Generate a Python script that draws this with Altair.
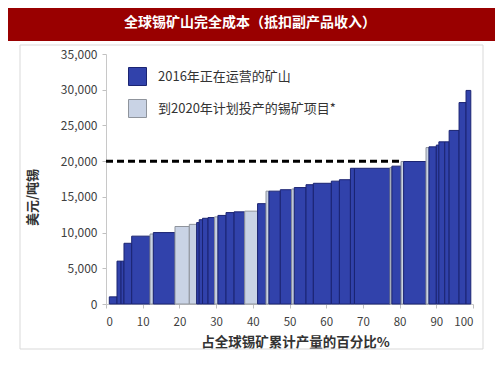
import altair as alt
import pandas as pd

TITLE = "全球锡矿山完全成本（抵扣副产品收入）"
Y_TITLE = "美元/吨锡"
X_TITLE = "占全球锡矿累计产量的百分比%"
CAT_OPER = "2016年正在运营的矿山"
CAT_PROJ = "到2020年计划投产的锡矿项目*"

# share of global tin mine output (%) for each mine, in cost order
START = 0.9
widths = [2.1, 1.1, 0.8, 2.1, 5.0, 0.9, 5.9, 3.9, 2.0, 0.7, 0.9, 1.5, 1.8, 0.9,
          2.2, 2.2, 2.9, 3.5, 2.3, 0.8, 3.1, 3.1, 0.7, 3.2, 2.0, 4.9, 2.2, 3.0,
          1.1, 9.7, 0.5, 2.5, 0.7, 6.1, 0.8, 2.0, 0.7, 1.6, 1.2, 2.7, 1.9, 1.3]
# all-in cost, USD per tonne of tin
costs = [1000, 6000, 6000, 8500, 9500, 9800, 10000, 10850, 11150, 11400, 11800,
         12000, 12100, 12200, 12400, 12800, 12900, 13000, 14050, 15800, 15800,
         16000, 16100, 16300, 16700, 16900, 17200, 17400, 19000, 19000, 19100,
         19300, 19950, 19950, 21900, 22000, 22250, 22700, 22700, 24300, 28200, 29900]
# O = operating in 2016, P = project planned by 2020
types = ["O", "O", "O", "O", "O", "P", "O", "P", "P", "O", "O", "O", "O", "P",
         "O", "O", "O", "P", "O", "P", "O", "O", "P", "O", "O", "O", "O", "O",
         "O", "O", "P", "O", "P", "O", "P", "O", "O", "O", "O", "O", "O", "O"]

PRICE_LINE = 20000
PRICE_LINE_END = 80.6

X_TICKS = list(range(0, 101, 10))
Y_TICKS = list(range(0, 35001, 5000))

FONT = "Noto Sans CJK SC"
BLUE = "#3142ab"
BLUE_EDGE = "#1b2472"
LIGHT = "#c9d3e5"
LIGHT_EDGE = "#8f949c"

df = pd.DataFrame({"w": widths, "cost": costs, "t": types})
df["x1"] = START + df["w"].cumsum()
df["x0"] = df["x1"] - df["w"]
df["cat"] = df["t"].map({"O": CAT_OPER, "P": CAT_PROJ})

one = pd.DataFrame({"a": [0]})

X_SCALE = alt.Scale(domain=[0, 100], nice=False)
Y_SCALE = alt.Scale(domain=[0, 35000], nice=False)
X_AXIS = alt.Axis(values=X_TICKS, format="d", title=X_TITLE, titleX=189, titleY=38,
                  titleAlign="center", titleBaseline="middle", labelPadding=8)
Y_AXIS = alt.Axis(values=Y_TICKS, format=",d", title=Y_TITLE, titleX=-74, titleY=143,
                  titleAlign="center", titleBaseline="middle", titleAngle=270)

frame = alt.Chart(one).mark_rect(fill="white", fillOpacity=0, stroke="#d9d9d9", strokeWidth=1).encode(
    x=alt.value(-86), x2=alt.value(377), y=alt.value(-9), y2=alt.value(295)
)
banner = alt.Chart(one).mark_rect(fill="#990000").encode(
    x=alt.value(-98), x2=alt.value(391), y=alt.value(-46), y2=alt.value(-13)
)
banner_text = alt.Chart(one).mark_text(
    text=TITLE, color="white", font=FONT, fontSize=14, fontWeight="bold",
    align="center", baseline="middle"
).encode(x=alt.value(144), y=alt.value(-31))

cat_scale = alt.Scale(domain=[CAT_OPER, CAT_PROJ], range=[BLUE, LIGHT])
edge_scale = alt.Scale(domain=[CAT_OPER, CAT_PROJ], range=[BLUE_EDGE, LIGHT_EDGE])

bars = alt.Chart(df).mark_rect(strokeWidth=1).encode(
    x=alt.X("x0:Q", scale=X_SCALE, axis=X_AXIS),
    x2="x1:Q",
    y=alt.Y("cost:Q", scale=Y_SCALE, axis=Y_AXIS),
    y2=alt.datum(0),
    fill=alt.Fill("cat:N", scale=cat_scale, title=None,
                  legend=alt.Legend(orient="none", legendX=22, legendY=13)),
    stroke=alt.Stroke("cat:N", scale=edge_scale, title=None,
                      legend=alt.Legend(orient="none", legendX=22, legendY=13)),
)

line_df = pd.DataFrame({"x": [0], "x2": [PRICE_LINE_END], "y": [PRICE_LINE]})
rule = alt.Chart(line_df).mark_rule(color="black", strokeWidth=3, strokeDash=[7, 4]).encode(
    x=alt.X("x:Q", scale=X_SCALE, axis=X_AXIS),
    x2="x2:Q",
    y=alt.Y("y:Q", scale=Y_SCALE, axis=Y_AXIS),
)

chart = alt.layer(frame, banner, banner_text, bars, rule).properties(
    width=367, height=250,
    autosize=alt.AutoSizeParams(type="none"),
    padding={"left": 98, "top": 46, "right": 22, "bottom": 66},
).configure_view(strokeWidth=0).configure_axis(
    grid=False, labelFont=FONT, titleFont=FONT, labelColor="#404040", titleColor="#333333",
    tickColor="#c0c0c0", domainColor="#c8c8c8", tickSize=4, labelPadding=5,
    titleFontWeight="bold",
).configure_axisY(labelFontSize=12, titleFontSize=13).configure_axisX(
    labelFontSize=11.5, titleFontSize=13.5
).configure_legend(
    symbolType="square", symbolSize=324, symbolStrokeWidth=1, labelFont=FONT,
    labelFontSize=13, labelColor="#333333", labelOffset=11, rowPadding=9, padding=0,
    labelLimit=300,
)

chart.save("out.html", embed_options={"renderer": "svg", "actions": False})
